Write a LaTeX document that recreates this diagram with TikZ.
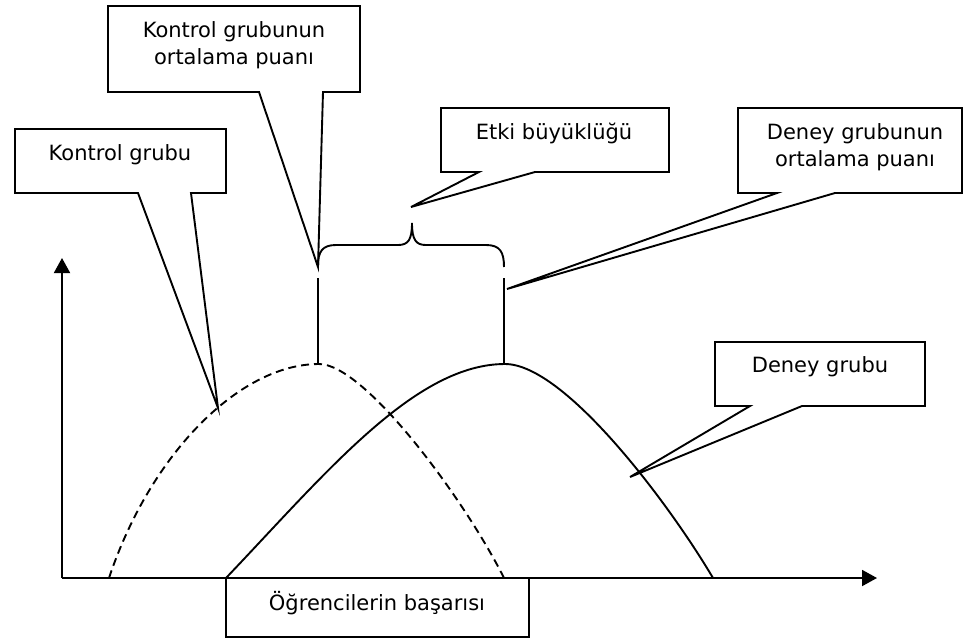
\documentclass[tikz,border=0pt]{standalone}
\usepackage{fontspec}
\setmainfont{DejaVu Sans}
\usetikzlibrary{arrows.meta}
\begin{document}
\begin{tikzpicture}[x=1pt,y=-1pt,
  ln/.style={line width=1.9pt, line join=miter},
  lbl/.style={inner sep=0pt, align=center, font=\fontsize{21}{27}\selectfont},
  curvedash/.style={line width=1.9pt, dash pattern=on 8pt off 5pt},
  axisarrow/.style={line width=1.9pt, -{Triangle[length=15pt,width=16pt]}}]
\useasboundingbox (0,0) rectangle (964,641);

% axes
\coordinate (O) at (62,578);
\coordinate (Ytop) at (62,258);
\coordinate (Xend) at (877,578);
\draw[axisarrow] (O) -- (Ytop);
\draw[axisarrow] (O) -- (Xend);

% curves
\coordinate (dS) at (109,578);
\coordinate (dP) at (319,364);
\coordinate (dE) at (504,578);
\draw[curvedash] (dS) .. controls (150,455) and (239,364) .. (dP)
  .. controls (365,364) and (465,500) .. (dE);
\coordinate (sS) at (226,578);
\coordinate (sP) at (505,364);
\coordinate (sE) at (713,578);
\draw[ln] (sS) .. controls (326,473) and (415,364) .. (sP)
  .. controls (565,364) and (670,505) .. (sE);

% mean lines
\coordinate (mL) at (318,278);
\coordinate (mR) at (504,278);
\draw[ln] (dP -| mL) -- (mL);
\draw[ln] (sP -| mR) -- (mR);

% brace
\draw[ln] (318,266) .. controls (318,252) and (322,245) .. (336,245) -- (398,245)
  .. controls (408,245) and (412,240) .. (412,223)
  .. controls (412,240) and (416,245) .. (426,245) -- (486,245)
  .. controls (500,245) and (504,252) .. (504,267);

% callout: Kontrol grubu
\coordinate (t1) at (218,408);
\draw[ln] (15,129) -- (226,129) -- (226,193) -- (191,193) -- (t1) -- (138,193) -- (15,193) -- cycle;
\node[lbl] (kg) at (120,155) {Kontrol grubu};

% callout: Kontrol grubunun ortalama puani
\coordinate (t2) at (318,267);
\draw[ln] (108,6) -- (360,6) -- (360,92) -- (323,92) -- (t2) -- (259,92) -- (108,92) -- cycle;
\node[lbl] (kgo) at (234,45) {Kontrol grubunun\\ortalama puanı};

% callout: Etki buyuklugu
\coordinate (t3) at (411,207);
\draw[ln] (441,108) -- (669,108) -- (669,172) -- (535,172) -- (t3) -- (479,172) -- (441,172) -- cycle;
\node[lbl] (eb) at (554,133) {Etki büyüklüğü};

% callout: Deney grubunun ortalama puani
\coordinate (t4) at (507,289);
\draw[ln] (738,108) -- (962,108) -- (962,193) -- (835,193) -- (t4) -- (777,193) -- (738,193) -- cycle;
\node[lbl] (dgo) at (855,147) {Deney grubunun\\ortalama puanı};

% callout: Deney grubu
\coordinate (t5) at (630,477);
\draw[ln] (715,342) -- (925,342) -- (925,406) -- (802,406) -- (t5) -- (750,406) -- (715,406) -- cycle;
\node[lbl] (dg) at (820,367) {Deney grubu};

% x label box
\draw[ln] (226,578) rectangle (529,637);
\node[lbl] (ob) at (377,603) {Öğrencilerin başarısı};
\end{tikzpicture}
\end{document}
